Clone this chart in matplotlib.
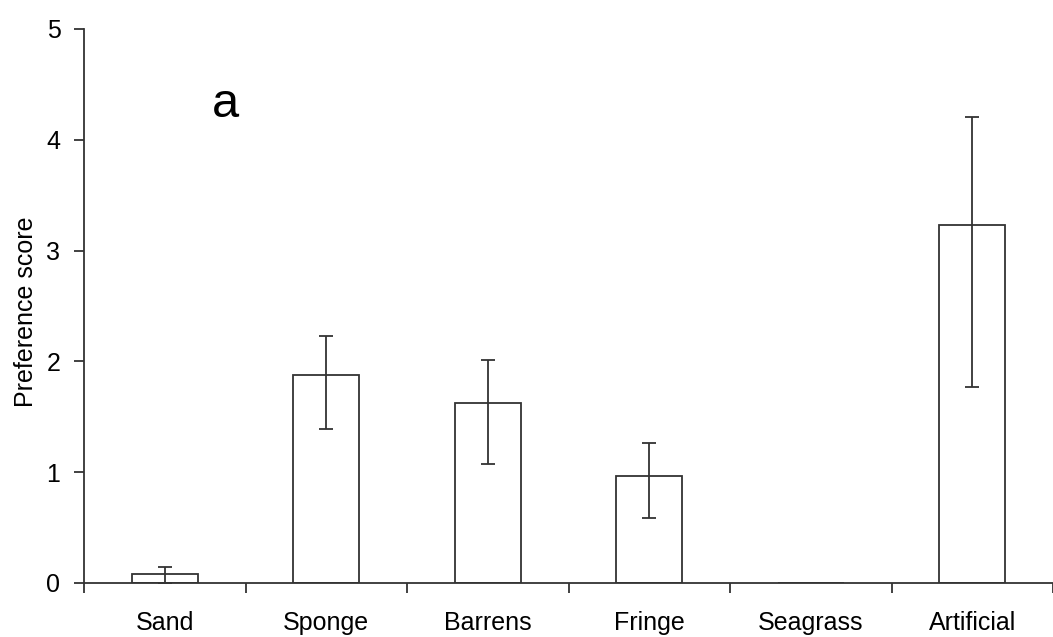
import matplotlib.pyplot as plt
import numpy as np

plt.rcParams['font.family'] = ['Liberation Sans', 'DejaVu Sans']

# Habitat preference scores with asymmetric error bars
habitats = ['Sand', 'Sponge', 'Barrens', 'Fringe', 'Seagrass', 'Artificial']
scores = [0.08, 1.88, 1.62, 0.97, 0.0, 3.23]
err_upper = [0.145, 2.23, 2.01, 1.26, 0.0, 4.21]
err_lower = [0.0, 1.39, 1.07, 0.59, 0.0, 1.77]

line_col = '#333333'

fig = plt.figure(figsize=(10.53, 6.37), dpi=100)
ax = fig.add_axes([0.0798, 0.0848, 0.9202, 0.8697])

x = np.arange(len(habitats))
scores = np.array(scores)
yerr = np.array([scores - np.array(err_lower), np.array(err_upper) - scores])

ax.bar(x, scores, width=0.41, facecolor='white', edgecolor=line_col, linewidth=1.3)
has_err = np.array(err_upper) > 0
ax.errorbar(x[has_err], scores[has_err], yerr=yerr[:, has_err], fmt='none',
            ecolor=line_col, elinewidth=1.3, capsize=5, capthick=1.3)

# the axis runs a little past the right edge of the figure
ax.set_xlim(-0.5, 5.45)
ax.set_ylim(0, 5)
ax.set_yticks(range(6))

# category labels at the centres, tick marks between the categories
ax.set_xticks(x)
ax.set_xticklabels(habitats)
ax.set_xticks(np.arange(-0.5, 6.0, 1.0), minor=True)
ax.tick_params(axis='x', which='major', length=0, pad=20, labelsize=18)
ax.tick_params(axis='x', which='minor', length=7, width=1.3, color=line_col, direction='out')
ax.tick_params(axis='y', length=7, width=1.3, color=line_col, direction='out', pad=10, labelsize=18)

for side in ['top', 'right']:
    ax.spines[side].set_visible(False)
for side in ['left', 'bottom']:
    ax.spines[side].set_color(line_col)
    ax.spines[side].set_linewidth(1.3)

ax.set_ylabel('Preference score', fontsize=18)
ax.yaxis.set_label_coords(-0.0475, 0.49)

fig.text(0.214, 0.8163, 'a', fontsize=35, ha='center', va='baseline')

plt.savefig('out.png', dpi=100)
